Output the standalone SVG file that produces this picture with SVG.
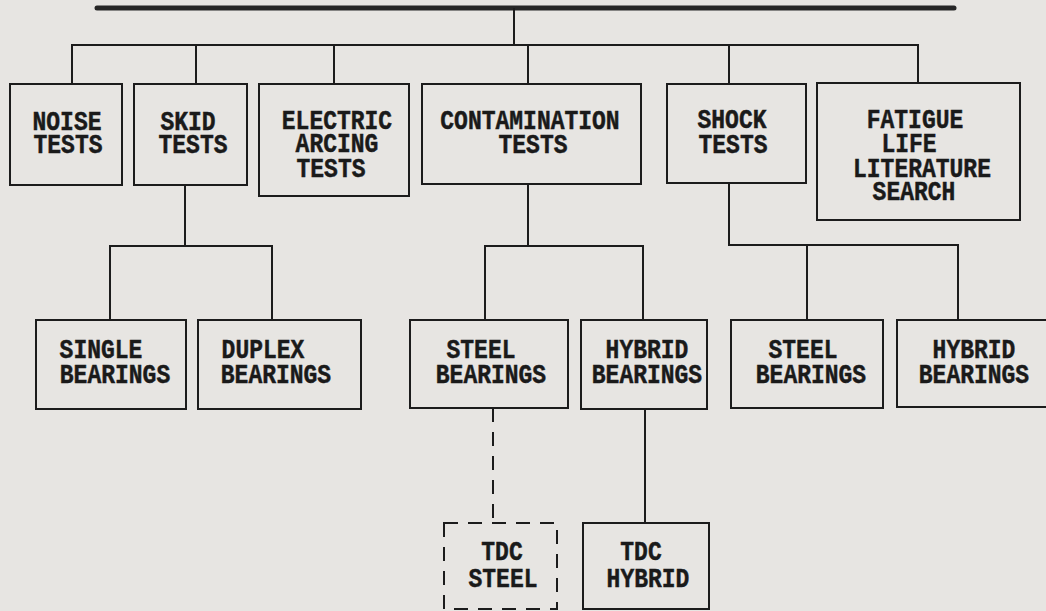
<svg xmlns="http://www.w3.org/2000/svg" width="1046" height="611" viewBox="0 0 1046 611">
<style>
.bg{fill:#e7e5e2}
.box{fill:none;stroke:#1c1c1c;stroke-width:2}
.dbox{fill:none;stroke:#1c1c1c;stroke-width:2;stroke-dasharray:14 10}
.ln{fill:none;stroke:#1c1c1c;stroke-width:2}
.dln{fill:none;stroke:#1c1c1c;stroke-width:2;stroke-dasharray:14 10}
.bar{fill:none;stroke:#262626;stroke-width:5;stroke-linecap:round}
text{font-family:"Liberation Mono","DejaVu Sans Mono",monospace;font-weight:bold;font-size:23px;fill:#1a1a1a;text-anchor:middle;stroke:#1a1a1a;stroke-width:0.4}
</style>
<rect class="bg" x="0" y="0" width="1046" height="611"/>
<g id="connectors">
<line class="bar" x1="97" y1="8" x2="954" y2="8"/>
<path class="ln" d="M514 8V45M72 84V45H918V83M196 45V84M334 45V84M528 45V84M729 45V84"/>
<path class="ln" d="M185 185V246M110 320V246H272V320"/>
<path class="ln" d="M528 184V246M485 320V246H643V320"/>
<path class="ln" d="M729 183V245H958V320M807 245V320"/>
<path class="dln" d="M493 408V523"/>
<path class="ln" d="M645 409V523"/>
</g>
<g id="noise"><rect class="box" x="10" y="84" width="112" height="101"/><text transform="scale(1 1.22)"><tspan x="67" y="106.56">NOISE</tspan><tspan x="68" y="125.41">TESTS</tspan></text></g>
<g id="skid"><rect class="box" x="134" y="84" width="113" height="101"/><text transform="scale(1 1.22)"><tspan x="188" y="106.56">SKID</tspan><tspan x="193" y="125.41">TESTS</tspan></text></g>
<g id="electric"><rect class="box" x="259" y="84" width="150" height="112"/><text transform="scale(1 1.22)"><tspan x="337" y="105.74">ELECTRIC</tspan><tspan x="337" y="124.59">ARCING</tspan><tspan x="331" y="145.08">TESTS</tspan></text></g>
<g id="contamination"><rect class="box" x="422" y="84" width="219" height="100"/><text transform="scale(1 1.22)"><tspan x="530" y="105.74">CONTAMINATION</tspan><tspan x="533" y="125.41">TESTS</tspan></text></g>
<g id="shock"><rect class="box" x="667" y="84" width="139" height="99"/><text transform="scale(1 1.22)"><tspan x="732" y="104.92">SHOCK</tspan><tspan x="733" y="125.41">TESTS</tspan></text></g>
<g id="fatigue"><rect class="box" x="817" y="83" width="203" height="137"/><text transform="scale(1 1.22)"><tspan x="915" y="104.92">FATIGUE</tspan><tspan x="909" y="124.59">LIFE</tspan><tspan x="922" y="145.08">LITERATURE</tspan><tspan x="914" y="163.93">SEARCH</tspan></text></g>
<g id="single"><rect class="box" x="36" y="320" width="150" height="89"/><text transform="scale(1 1.22)"><tspan x="101" y="293.44">SINGLE</tspan><tspan x="115" y="313.93">BEARINGS</tspan></text></g>
<g id="duplex"><rect class="box" x="198" y="320" width="163" height="89"/><text transform="scale(1 1.22)"><tspan x="263" y="293.44">DUPLEX</tspan><tspan x="276" y="313.93">BEARINGS</tspan></text></g>
<g id="c-steel"><rect class="box" x="410" y="320" width="158" height="88"/><text transform="scale(1 1.22)"><tspan x="481" y="293.44">STEEL</tspan><tspan x="491" y="313.93">BEARINGS</tspan></text></g>
<g id="c-hybrid"><rect class="box" x="581" y="320" width="126" height="89"/><text transform="scale(1 1.22)"><tspan x="647" y="293.44">HYBRID</tspan><tspan x="647" y="313.93">BEARINGS</tspan></text></g>
<g id="s-steel"><rect class="box" x="731" y="320" width="152" height="88"/><text transform="scale(1 1.22)"><tspan x="803" y="293.44">STEEL</tspan><tspan x="811" y="313.93">BEARINGS</tspan></text></g>
<g id="s-hybrid"><rect class="box" x="897" y="320" width="165" height="87"/><text transform="scale(1 1.22)"><tspan x="974" y="293.44">HYBRID</tspan><tspan x="974" y="313.93">BEARINGS</tspan></text></g>
<g id="tdc-steel"><rect class="dbox" x="444" y="523" width="113" height="86"/><text transform="scale(1 1.22)"><tspan x="502" y="459.02">TDC</tspan><tspan x="503" y="481.15">STEEL</tspan></text></g>
<g id="tdc-hybrid"><rect class="box" x="583" y="523" width="126" height="86"/><text transform="scale(1 1.22)"><tspan x="641" y="459.02">TDC</tspan><tspan x="648" y="481.15">HYBRID</tspan></text></g>
</svg>
